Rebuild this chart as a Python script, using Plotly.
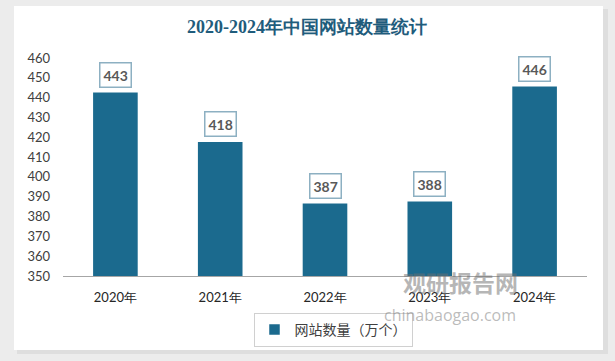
import plotly.graph_objects as go

years = ["2020年", "2021年", "2022年", "2023年", "2024年"]
sites = [443, 418, 387, 388, 446]
series_name = "网站数量（万个）"
title_text = "2020-2024年中国网站数量统计"
y_ticks = [350, 360, 370, 380, 390, 400, 410, 420, 430, 440, 450, 460]

W, H = 615, 361
L, R, T, B = 63, 28, 58, 85
pw, ph = W - L - R, H - T - B


def px(x):
    return (x - L) / pw


def py(y):
    return (H - B - y) / ph


fig = go.Figure()
fig.add_trace(go.Bar(
    x=years, y=sites, name=series_name,
    marker=dict(color="#1B6A8E", line=dict(color="white", width=1.5)),
    showlegend=True,
))

for x, v in zip(years, sites):
    fig.add_annotation(
        x=x, y=v, xref="x", yref="y", text=f"<b>{v}</b>", showarrow=False,
        yanchor="bottom", yshift=4,
        font=dict(family="Lato, Open Sans, sans-serif", size=14, color="#595959"),
        bgcolor="white", bordercolor="#8DB0C2", borderwidth=1.5, borderpad=3,
    )

# watermark
fig.add_annotation(x=px(520), y=py(301), xref="paper", yref="paper",
                   text="<b>观研报告网</b>", showarrow=False,
                   font=dict(family="Noto Sans CJK SC", size=23, color="rgba(110,110,110,0.5)"))
fig.add_annotation(x=px(518), y=py(328), xref="paper", yref="paper",
                   text="chinabaogao.com", showarrow=False,
                   font=dict(family="Open Sans", size=16, color="rgba(120,120,120,0.5)"))

shapes = [
    dict(type="rect", xref="paper", yref="paper", layer="below",
         x0=px(17), x1=px(608), y0=py(354), y1=py(9),
         fillcolor="#dedede", line=dict(width=0)),
    dict(type="rect", xref="paper", yref="paper", layer="below",
         x0=px(14), x1=px(603), y0=py(350), y1=py(6),
         fillcolor="white", line=dict(width=0)),
]

fig.update_layout(
    width=W, height=H,
    margin=dict(l=L, r=R, t=T, b=B, autoexpand=False),
    paper_bgcolor="#ececec",
    plot_bgcolor="#f2f2f2",
    shapes=shapes,
    bargap=0.56,
    title=dict(text=f"<b>{title_text}</b>", x=307 / W, xanchor="center", xref="container",
               y=1 - 27 / H, yanchor="middle", yref="container",
               font=dict(family="Liberation Serif, DejaVu Serif, serif", size=18, color="#1F5C7C")),
    xaxis=dict(showgrid=False, showline=True, linecolor="#a6a6a6", linewidth=1,
               ticks="", ticklabelstandoff=9,
               tickfont=dict(family="Lato, Open Sans, sans-serif", size=13, color="#262626")),
    yaxis=dict(range=[350, 460], tickvals=y_ticks, showgrid=False, showline=False,
               zeroline=False, ticks="", ticklabelstandoff=12,
               tickfont=dict(family="Lato, Open Sans, sans-serif", size=13, color="#404040")),
    legend=dict(orientation="h", x=px(333), xanchor="center", y=py(313), yanchor="top",
                bgcolor="white", bordercolor="#d0d0d0", borderwidth=1,
                font=dict(family="Noto Sans CJK SC", size=14, color="#404040")),
)

fig.write_html("out.html", config={"displayModeBar": False},
               post_script="document.body.style.margin='0';")
